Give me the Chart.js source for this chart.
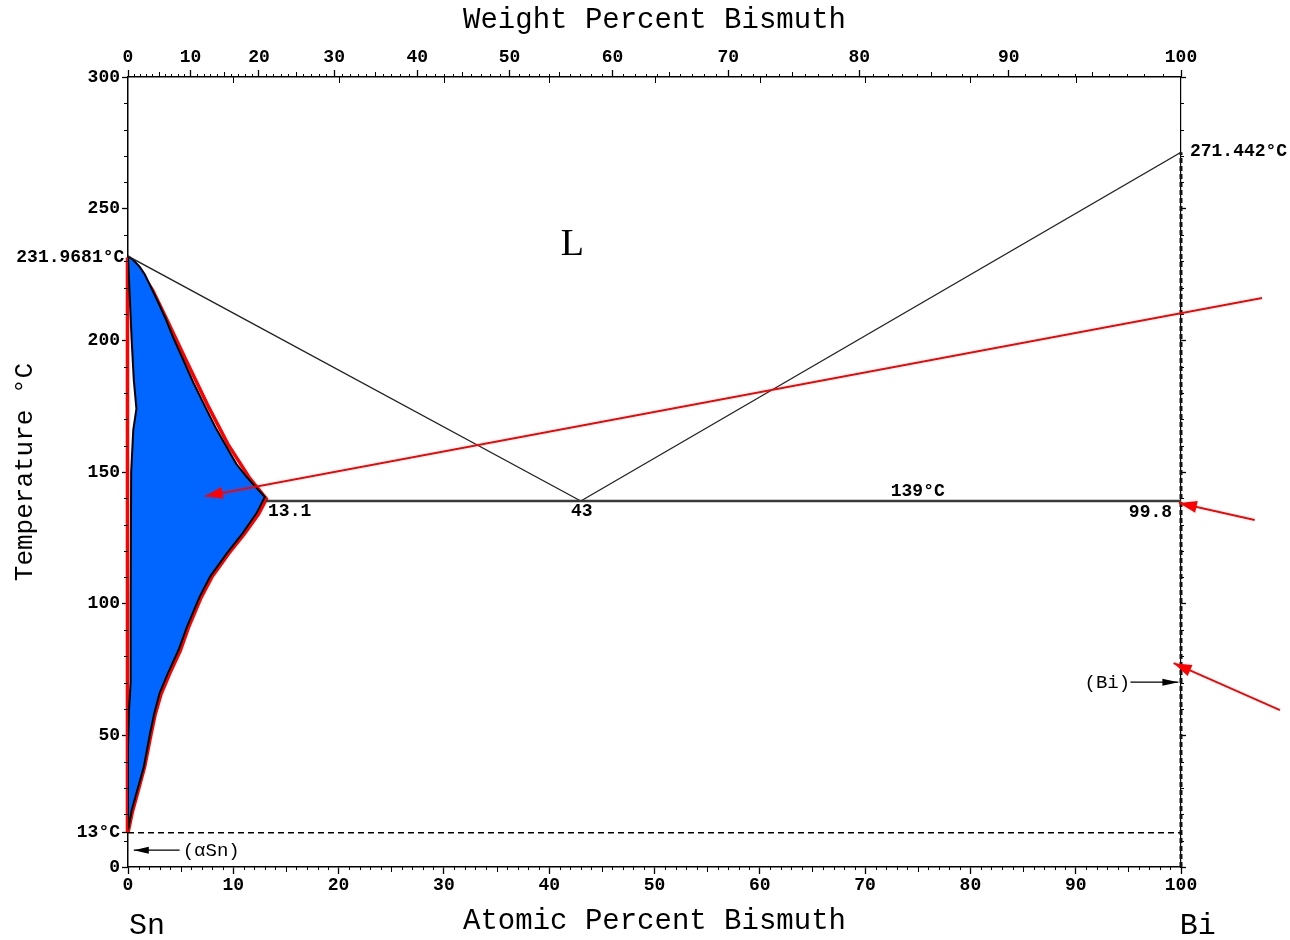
<!DOCTYPE html>
<html>
<head>
<meta charset="utf-8">
<script src="https://cdn.jsdelivr.net/npm/chart.js@4.4.1/dist/chart.umd.min.js"></script>
<style>
html,body{margin:0;padding:0;background:#fff;}
#wrap{width:1290px;height:940px;}
</style>
</head>
<body>
<div id="wrap"><canvas id="c" width="1290" height="940"></canvas></div>
<script>
// ---------- data ----------
const atomicTicks = [0,10,20,30,40,50,60,70,80,90,100];
const weightTickLabels = [0,10,20,30,40,50,60,70,80,90,100];
const temperatureTicks = [0,13,50,100,150,200,250,300];
const temperatureTickLabels = ['0','13°C','50','100','150','200','250','300'];

// atomic % Bi, temperature °C
const liquidusSn = [{x:0,y:231.9681},{x:43,y:139}];
const liquidusBi = [{x:43,y:139},{x:100,y:271.442}];
const eutecticLine = [{x:13.1,y:139},{x:100,y:139}];
const alphaSnLine = [{x:0,y:13},{x:100,y:13}];
const biSolvus = [{x:100,y:0},{x:100,y:271.442}];

// hand-traced (Sn) region, black outline with blue fill
const snRegionX = [0,0.5,1.1,1.6,2.2,2.8,3.6,4.3,5.2,6.2,7.3,8.3,9.3,10.3,11.3,12.2,13.0,
  12.2,10.9,9.4,7.8,6.8,5.6,4.8,3.8,3.0,2.5,2.1,1.5,0.8,0.35,0.03,
  0,0,0.1,0.25,0.25,0.3,0.5,0.8,0.55,0.35,0.15,0];
const snRegionT = [231.97,230.5,228,225,220,215,208,201,193,184,175,167,160,153,148,144,140.5,
  134.3,126.8,119.2,110.3,102.6,91.2,82.4,73.6,66,58.4,50.8,38,28,21.6,14.7,
  14.5,45,60,70,100,150,166,174,185,200,218,231.97];

// red solvus overlay (just outside the traced outline)
const redSolvusX = [0,1.2,2.35,3.8,5.45,7.55,9.5,11.5,13.15,12.4,11.05,9.55,7.95,6.95,5.75,4.95,3.95,3.15,2.6,2.2,1.58,0.9,0.42,0.05,
  -0.05,-0.05,-0.05];
const redSolvusT = [231.5,226,219,207,193,175.5,160.5,148,139.8,134,126.5,119,110,102.4,91,82,73.4,65.8,58.2,50.6,38,28,21,14,
  14,120,231.5];

// arrows (start -> tip)
const redArrowLong = [{x:107.7,y:216.1},{x:7.3,y:140.8}];
const redArrowEutectic = [{x:107.0,y:131.8},{x:99.8,y:138.2}];
const redArrowBi = [{x:109.4,y:59.6},{x:99.3,y:77.4}];
const biArrow = [{x:95.2,y:70.2},{x:99.75,y:70.2}];
const alphaSnArrow = [{x:4.9,y:6.4},{x:0.55,y:6.4}];

// text annotations anchored in data coordinates
const noteTexts = ['L','231.9681°C','271.442°C','13.1','43','139°C','99.8','(Bi)','(αSn)','Sn','Bi'];
const noteX = [42.2,-0.35,100.85,13.3,43.1,75.0,97.1,93.0,7.9,1.8,101.6];
const noteT = [236.2,231.6,271.6,135.0,135.0,142.5,134.8,69.9,5.9,-22.6,-22.6];

// conversion used for the top (weight %) axis
const M_SN = 118.71, M_BI = 208.98;
function wtToAt(w){ const b = w / M_BI, s = (100 - w) / M_SN; return (b + s) === 0 ? 0 : 100 * b / (b + s); }

const zip = (xs, ys) => xs.map((x, i) => ({x, y: ys[i]}));

// ---------- styles ----------
const MONO = '"Liberation Mono", "DejaVu Sans Mono", monospace';
const SERIF = '"Liberation Serif", "DejaVu Serif", serif';
const noteStyles = {
  'L': {font:'38px ' + SERIF, align:'center'},
  '231.9681°C': {font:'bold 18px ' + MONO, align:'right'},
  '271.442°C': {font:'bold 18px ' + MONO, align:'left'},
  '13.1': {font:'bold 18px ' + MONO, align:'left'},
  'Sn': {font:'30px ' + MONO, align:'center'},
  'Bi': {font:'30px ' + MONO, align:'center'},
  '(Bi)': {font:'19px ' + MONO, align:'center'},
  '(αSn)': {font:'19px ' + MONO, align:'center'}
};
const defaultNote = {font:'bold 18px ' + MONO, align:'center'};

// ---------- plugins ----------
const minorTicks = {
  id:'minorTicks',
  afterDraw(chart){
    const {ctx, chartArea:a, scales} = chart;
    ctx.save();
    ctx.strokeStyle = '#000';
    ctx.lineWidth = 1;
    const seg = (x1,y1,x2,y2) => { ctx.beginPath(); ctx.moveTo(x1,y1); ctx.lineTo(x2,y2); ctx.stroke(); };
    for (let v = 1; v < 100; v++) {
      if (v % 10 === 0) continue;
      const px = Math.round(scales.x.getPixelForValue(v)) + 0.5;
      seg(px, a.bottom, px, a.bottom + (v % 5 === 0 ? 5 : 3));
    }
    for (let w = 1; w < 100; w++) {
      if (w % 10 === 0) continue;
      const px = Math.round(scales.xTop.getPixelForValue(wtToAt(w))) + 0.5;
      seg(px, a.top, px, a.top - (w % 5 === 0 ? 5 : 3));
    }
    for (let v = 10; v < 100; v += 10) {
      const px = Math.round(scales.x.getPixelForValue(v)) + 0.5;
      seg(px, a.top, px, a.top + 6);
    }
    for (let t = 10; t < 300; t += 10) {
      if (t % 50 === 0) continue;
      const py = Math.round(scales.y.getPixelForValue(t)) + 0.5;
      seg(a.left, py, a.left - 4, py);
      seg(a.right, py, a.right + 3, py);
    }
    ctx.restore();
  }
};

const arrowHeads = {
  id:'arrowHeads',
  afterDatasetsDraw(chart){
    const ctx = chart.ctx;
    chart.data.datasets.forEach((ds, i) => {
      if (!ds.arrowHead) return;
      const pts = chart.getDatasetMeta(i).data;
      const tip = pts[pts.length - 1], prev = pts[pts.length - 2];
      const ang = Math.atan2(tip.y - prev.y, tip.x - prev.x);
      const {length, width} = ds.arrowHead;
      ctx.save();
      ctx.translate(tip.x, tip.y);
      ctx.rotate(ang);
      ctx.beginPath();
      ctx.moveTo(0, 0);
      ctx.lineTo(-length, -width / 2);
      ctx.lineTo(-length, width / 2);
      ctx.closePath();
      ctx.fillStyle = ds.borderColor;
      ctx.fill();
      ctx.restore();
    });
  }
};

const notes = {
  id:'notes',
  afterDatasetsDraw(chart){
    const {ctx, scales} = chart;
    ctx.save();
    ctx.fillStyle = '#000';
    ctx.textBaseline = 'middle';
    noteTexts.forEach((t, i) => {
      const st = noteStyles[t] || defaultNote;
      ctx.font = st.font;
      ctx.textAlign = st.align;
      ctx.fillText(t, scales.x.getPixelForValue(noteX[i]), scales.y.getPixelForValue(noteT[i]));
    });
    ctx.restore();
  }
};

// ---------- chart ----------
const line = (data, color, width, extra) => Object.assign({
  data, showLine:true, borderColor:color, borderWidth:width, pointRadius:0,
  fill:false, tension:0
}, extra || {});

const tickFont = {family: MONO, size: 18, weight: 'bold'};
const titleFont = {family: MONO, size: 29, lineHeight: 1};

new Chart(document.getElementById('c'), {
  type: 'scatter',
  data: {
    datasets: [
      line(redArrowLong, '#ff0000', 2, {order:1, clip:false, arrowHead:{length:18, width:12}}),
      line(redArrowEutectic, '#ff0000', 2, {order:1, clip:false, arrowHead:{length:18, width:12}}),
      line(redArrowBi, '#ff0000', 2, {order:1, clip:false, arrowHead:{length:18, width:12}}),
      line(biArrow, '#000', 1.3, {order:2, arrowHead:{length:16, width:7}}),
      line(alphaSnArrow, '#000', 1.3, {order:2, arrowHead:{length:15, width:7}}),
      line(eutecticLine, '#3a3a3a', 2.5, {order:5}),
      line(alphaSnLine, '#000', 1.3, {order:5, borderDash:[6,4]}),
      line(biSolvus, '#111', 3, {order:5, borderDash:[5,3], clip:false}),
      line(liquidusSn, '#222', 1.3, {order:6}),
      line(liquidusBi, '#222', 1.3, {order:6}),
      line(zip(snRegionX, snRegionT), '#000', 2, {order:8, fill:'shape', backgroundColor:'#0066ff'}),
      line(zip(redSolvusX, redSolvusT), '#ff0000', 3.5, {order:9, clip:false})
    ]
  },
  options: {
    responsive: false,
    animation: false,
    devicePixelRatio: 1,
    layout: {padding: 0},
    plugins: {legend:{display:false}, tooltip:{enabled:false}},
    scales: {
      x: {
        type:'linear', position:'bottom', min:0, max:100,
        afterBuildTicks: s => { s.ticks = atomicTicks.map(v => ({value:v})); },
        ticks: {font:tickFont, color:'#000', padding:1, maxRotation:0, autoSkip:false},
        grid: {drawOnChartArea:false, tickLength:7, color:'#000', tickWidth:1.3},
        border: {color:'#000', width:1.5},
        title: {display:true, text:'Atomic Percent Bismuth', font:titleFont, color:'#000', padding:{top:0, bottom:4}},
        afterFit: s => { s.height = 73; }
      },
      xTop: {
        type:'linear', position:'top', min:0, max:100,
        afterBuildTicks: s => { s.ticks = weightTickLabels.map(w => ({value: wtToAt(w)})); },
        ticks: {font:tickFont, color:'#000', padding:2, maxRotation:0, autoSkip:false,
                callback: (v, i) => String(weightTickLabels[i])},
        grid: {drawOnChartArea:false, tickLength:7, color:'#000', tickWidth:1.3},
        border: {color:'#000', width:1.5},
        title: {display:true, text:'Weight Percent Bismuth', font:titleFont, color:'#000', padding:{top:6, bottom:0}},
        afterFit: s => { s.height = 77; }
      },
      y: {
        type:'linear', position:'left', min:0, max:300,
        afterBuildTicks: s => { s.ticks = temperatureTicks.map(v => ({value:v})); },
        ticks: {font:tickFont, color:'#000', padding:2, autoSkip:false,
                callback: (v, i) => temperatureTickLabels[i]},
        grid: {drawOnChartArea:false, tickLength:6, color:'#000', tickWidth:1.3},
        border: {color:'#000', width:1.5},
        title: {display:true, text:'Temperature °C', font:{family:MONO, size:26, lineHeight:1}, color:'#000', padding:{top:12, bottom:0}},
        afterFit: s => { s.width = 128; }
      },
      yRight: {
        type:'linear', position:'right', min:0, max:300,
        ticks: {display:false, stepSize:50},
        grid: {drawOnChartArea:false, tickLength:5, color:'#000', tickWidth:1.3},
        border: {color:'#000', width:1.2},
        afterFit: s => { s.width = 109; }
      }
    }
  },
  plugins: [minorTicks, arrowHeads, notes]
});
</script>
</body>
</html>
